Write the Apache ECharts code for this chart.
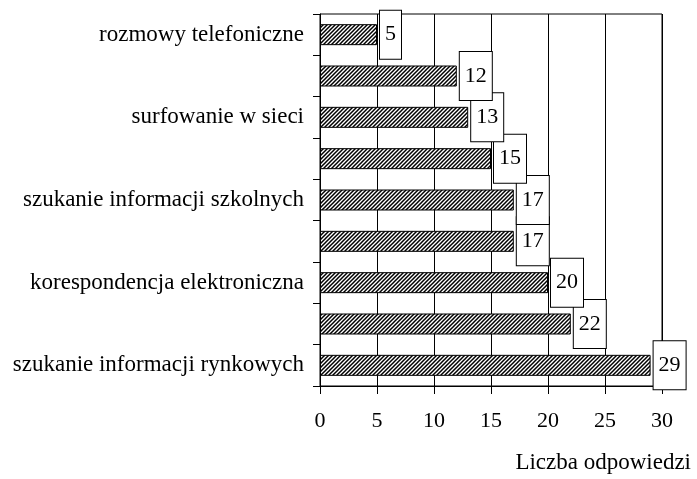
<!DOCTYPE html>
<html>
<head>
<meta charset="utf-8">
<script src="https://cdn.jsdelivr.net/npm/echarts@6/dist/echarts.min.js"></script>
<style>
html,body{margin:0;padding:0;background:#fff;}
#chart{width:697px;height:479px;}
</style>
</head>
<body>
<div id="chart"></div>
<script>
// Categories listed bottom-to-top (as ECharts category axis draws them)
var categories = [
  'szukanie informacji rynkowych',
  '',
  'korespondencja elektroniczna',
  '',
  'szukanie informacji szkolnych',
  '',
  'surfowanie w sieci',
  '',
  'rozmowy telefoniczne'
];
var values = [29, 22, 20, 17, 17, 15, 13, 12, 5];
var xTicks = { min: 0, max: 30, interval: 5 };
var axisTitle = 'Liczba odpowiedzi';

var FONT = "'Liberation Serif', 'Times New Roman', serif";

// diagonal hatch pattern
var pat = document.createElement('canvas');
pat.width = 4; pat.height = 4;
var c = pat.getContext('2d');
c.fillStyle = '#fff';
c.fillRect(0, 0, 4, 4);
c.strokeStyle = '#000';
c.lineWidth = 1.5;
c.beginPath();
c.moveTo(-1, 5); c.lineTo(5, -1);
c.moveTo(-1, 1); c.lineTo(1, -1);
c.moveTo(3, 5); c.lineTo(5, 3);
c.stroke();

var chart = echarts.init(document.getElementById('chart'), null, { renderer: 'canvas' });
chart.setOption({
  animation: false,
  backgroundColor: '#fff',
  grid: {
    left: 320, right: 35, top: 14, bottom: 93,
    show: true, borderColor: '#000', borderWidth: 1, backgroundColor: 'transparent'
  },
  xAxis: {
    type: 'value',
    min: xTicks.min, max: xTicks.max, interval: xTicks.interval,
    axisLine: { show: true, lineStyle: { color: '#000', width: 1 } },
    axisTick: { show: true, length: 8, lineStyle: { color: '#000' } },
    axisLabel: { color: '#000', fontFamily: FONT, fontSize: 22, margin: 24 },
    splitLine: { show: true, lineStyle: { color: '#000', width: 1 } },
    name: axisTitle,
    nameLocation: 'end',
    nameGap: 29,
    nameTextStyle: {
      color: '#000', fontFamily: FONT, fontSize: 23,
      align: 'right', verticalAlign: 'top', padding: [65, 0, 0, 0]
    }
  },
  yAxis: {
    type: 'category',
    data: categories,
    axisLine: { show: true, lineStyle: { color: '#000', width: 1 } },
    axisTick: { show: true, length: 7, interval: 0, alignWithLabel: false, lineStyle: { color: '#000' } },
    axisLabel: { color: '#000', fontFamily: FONT, fontSize: 23, margin: 16, interval: 1 },
    splitLine: { show: false }
  },
  series: [{
    type: 'bar',
    data: values,
    barWidth: 21,
    itemStyle: {
      color: { image: pat, repeat: 'repeat' },
      borderColor: '#000',
      borderWidth: 1
    },
    label: {
      show: true,
      position: 'right',
      distance: 3,
      color: '#000',
      fontFamily: FONT,
      fontSize: 22,
      lineHeight: 22,
      backgroundColor: '#fff',
      borderColor: '#000',
      borderWidth: 1,
      padding: [13, 5, 13, 5]
    }
  }]
});
</script>
</body>
</html>
